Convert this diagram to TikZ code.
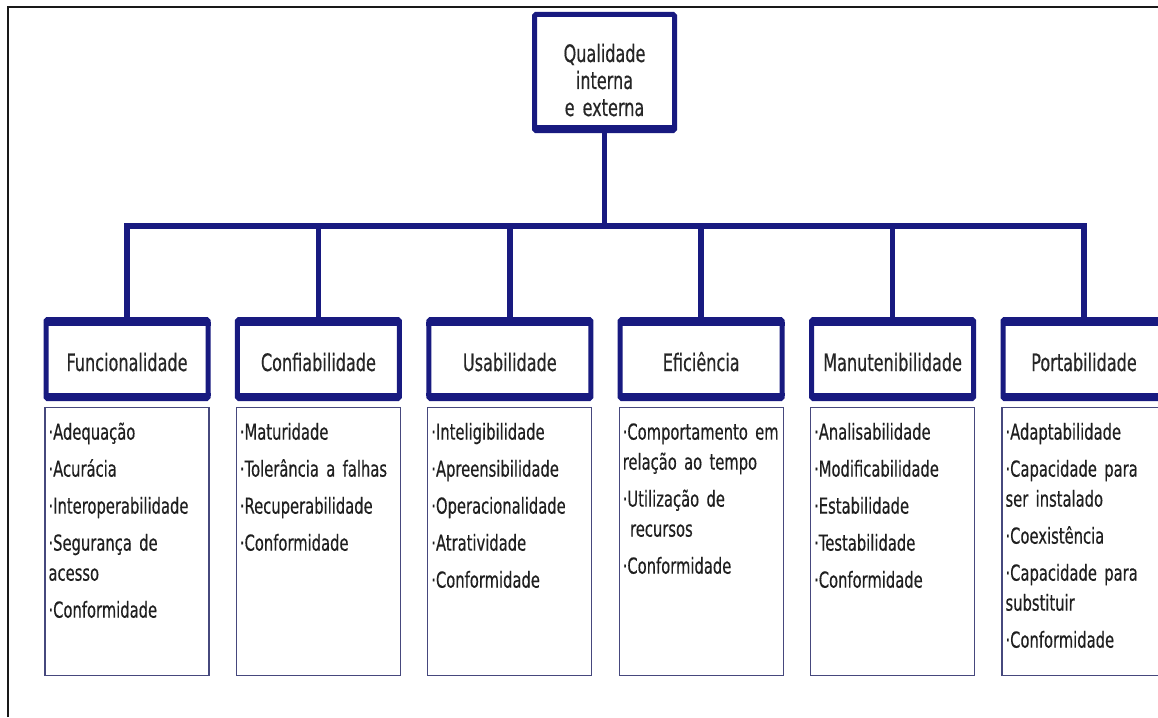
\documentclass[tikz,border=0pt]{standalone}
\usepackage{fontspec}
\setmainfont{DejaVu Sans}[FakeStretch=0.67, FakeBold=0.4]
\usetikzlibrary{positioning}
\definecolor{boxblue}{RGB}{24,26,128}
\definecolor{listblue}{RGB}{70,72,125}

\begin{document}
\begin{tikzpicture}[
  x=1pt, y=-1pt,
  head/.style={draw=boxblue, line width=5pt, fill=white, rounded corners=1.5pt,
               minimum width=162pt, minimum height=79pt, inner sep=2pt,
               text height=24pt, text depth=0pt,
               align=center, text=black!85, font={\fontsize{24}{27}\selectfont}},
  list/.style={draw=listblue, line width=1.3pt, text width=157pt,
               inner xsep=3.5pt, inner ysep=4pt, text height=28pt, text depth=232pt,
               align=left, text=black!88, font={\fontsize{22}{30}\selectfont}},
  link/.style={draw=boxblue, line width=5.5pt, line join=miter},
  bar/.style={boxblue, line width=3.5pt},
  node distance=6pt and 24.4pt
]
  \useasboundingbox (0,0) rectangle (1158,717);
  \clip (0,0) rectangle (1158,717);
  \draw[black!90, line width=2.2pt] (8,717) -- (8,7) -- (1158,7);

  \node[head, minimum width=140pt, minimum height=116pt, text width=130pt,
        text height=38pt, text depth=59pt] (root) at (604.5,72.5)
        {Qualidade\\interna\\e externa};

  \node[head] (fun) at (127,359) {Funcionalidade};
  \node[head, right=of fun] (con) {Confiabilidade};
  \node[head, right=of con] (usa) {Usabilidade};
  \node[head, right=of usa] (efi) {Eficiência};
  \node[head, right=of efi] (man) {Manutenibilidade};
  \node[head, right=of man] (por) {Portabilidade};

  \node[list, below=of fun] (funl) {·Adequação\\[7pt]·Acurácia\\[7pt]·Interoperabilidade\\[7pt]%
    ·Segurança de\\acesso\\[7pt]·Conformidade};
  \node[list, below=of con] (conl) {·Maturidade\\[7pt]·Tolerância a falhas\\[7pt]%
    ·Recuperabilidade\\[7pt]·Conformidade};
  \node[list, below=of usa] (usal) {·Inteligibilidade\\[7pt]·Apreensibilidade\\[7pt]%
    ·Operacionalidade\\[7pt]·Atratividade\\[7pt]·Conformidade};
  \node[list, below=of efi] (efil) {·Comportamento em\\relação ao tempo\\[7pt]%
    ·Utilização de\\\ recursos\\[7pt]·Conformidade};
  \node[list, below=of man] (manl) {·Analisabilidade\\[7pt]·Modificabilidade\\[7pt]%
    ·Estabilidade\\[7pt]·Testabilidade\\[7pt]·Conformidade};
  \node[list, below=of por] (porl) {·Adaptabilidade\\[7pt]·Capacidade para\\ser instalado\\[7pt]%
    ·Coexistência\\[7pt]·Capacidade para\\substituir\\[7pt]·Conformidade};

  \coordinate (bus) at (604.5,226);
  \draw[link] (root.south) -- (bus);
  \foreach \n in {fun,con,usa,efi,man,por}{
    \draw[link] (bus) -| (\n.north);
    \draw[bar] ([yshift=-7pt]\n.north west) -- ([yshift=-7pt]\n.north east);
    \draw[bar] ([yshift=6.5pt]\n.south west) -- ([yshift=6.5pt]\n.south east);
  }
  \draw[bar] ([yshift=6.5pt]root.south west) -- ([yshift=6.5pt]root.south east);
\end{tikzpicture}
\end{document}
